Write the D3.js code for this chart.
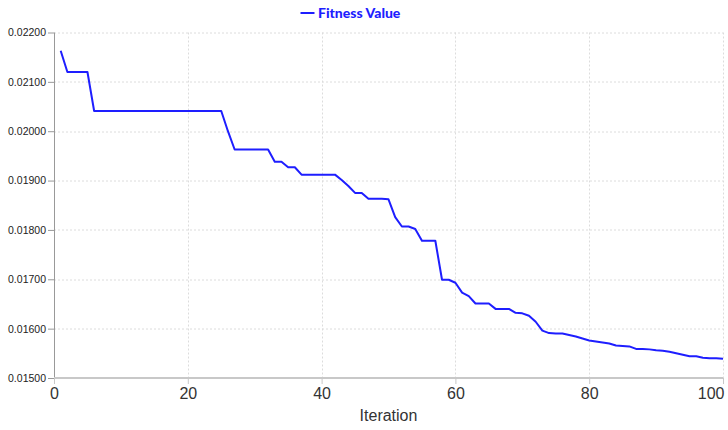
<!DOCTYPE html>
<html>
<head>
<meta charset="utf-8">
<script src="https://cdn.jsdelivr.net/npm/d3@7"></script>
<style>
  html, body { margin: 0; padding: 0; background: #fff; }
  svg { display: block; }
</style>
</head>
<body>
<div id="chart"></div>
<script>
// ── Fitness value per iteration ────────────────────────────────
const seriesName = 'Fitness Value';
const fitness = [
  0.02163, 0.02120, 0.02120, 0.02120, 0.02120, 0.02041, 0.02041, 0.02041, 0.02041, 0.02041,
  0.02041, 0.02041, 0.02041, 0.02041, 0.02041, 0.02041, 0.02041, 0.02041, 0.02041, 0.02041,
  0.02041, 0.02041, 0.02041, 0.02041, 0.02041, 0.02000, 0.01963, 0.01963, 0.01963, 0.01963,
  0.01963, 0.01963, 0.01938, 0.01938, 0.01927, 0.01927, 0.01912, 0.01912, 0.01912, 0.01912,
  0.01912, 0.01912, 0.01901, 0.01889, 0.01875, 0.01875, 0.01863, 0.01863, 0.01863, 0.01862,
  0.01826, 0.01807, 0.01807, 0.01802, 0.01778, 0.01778, 0.01778, 0.01699, 0.01699, 0.01693,
  0.01673, 0.01666, 0.01651, 0.01651, 0.01651, 0.01640, 0.01640, 0.01640, 0.01632, 0.01631,
  0.01626, 0.01614, 0.01596, 0.01591, 0.01590, 0.01590, 0.01587, 0.01584, 0.01580, 0.01576,
  0.01574, 0.01572, 0.01570, 0.01566, 0.01565, 0.01564, 0.01559, 0.01559, 0.01558, 0.01556,
  0.01555, 0.01553, 0.01550, 0.01547, 0.01544, 0.01544, 0.01541, 0.01540, 0.01540, 0.01539
];
const iterations = fitness.map((_, i) => i + 1);
const xTicks = [0, 20, 40, 60, 80, 100];
const yTicks = [0.015, 0.016, 0.017, 0.018, 0.019, 0.020, 0.021, 0.022];

const width = 728, height = 430;
const margin = { top: 32.5, right: 5, bottom: 52, left: 54 };
const W = width - margin.left - margin.right;
const H = height - margin.top - margin.bottom;
const lineColor = '#1e1eff';

const svg = d3.select('#chart').append('svg')
  .attr('width', width)
  .attr('height', height);

const g = svg.append('g').attr('transform', `translate(${margin.left},${margin.top})`);

const x = d3.scaleLinear().domain([0, 100]).range([0, W]);
const y = d3.scaleLinear().domain([0.015, 0.022]).range([H, 0]);

// Grid
g.append('g')
  .selectAll('line.hgrid')
  .data(yTicks.slice(1))
  .enter().append('line')
  .attr('x1', 0).attr('x2', W)
  .attr('y1', d => Math.round(y(d)) + 0.5).attr('y2', d => Math.round(y(d)) + 0.5)
  .attr('stroke', '#dcdcdc').attr('stroke-dasharray', '2,2');
g.append('g')
  .selectAll('line.vgrid')
  .data(xTicks.slice(1))
  .enter().append('line')
  .attr('y1', 0).attr('y2', H)
  .attr('x1', d => Math.round(x(d)) + 0.5).attr('x2', d => Math.round(x(d)) + 0.5)
  .attr('stroke', '#dcdcdc').attr('stroke-dasharray', '2,2');

// Y axis
const yAxisG = g.append('g')
  .call(d3.axisLeft(y).tickValues(yTicks).tickSize(6).tickPadding(2).tickFormat(d3.format('.5f')));
yAxisG.select('path').attr('stroke', '#999').attr('d', `M0.5,0V${H}`);
yAxisG.selectAll('line').attr('stroke', '#999');
yAxisG.selectAll('text')
  .attr('fill', '#222')
  .attr('font-family', "'Liberation Sans', Arial, sans-serif")
  .attr('font-size', '10.5px');

// X axis
const xAxisG = g.append('g').attr('transform', `translate(0,${H})`)
  .call(d3.axisBottom(x).tickValues(xTicks).tickSize(6).tickPadding(4));
xAxisG.select('path').attr('stroke', '#c8c8c8').attr('stroke-width', 2).attr('d', `M0,0H${W}`);
xAxisG.selectAll('line').attr('stroke', '#c8c8c8');
xAxisG.selectAll('text')
  .attr('fill', '#333')
  .attr('font-family', "'Liberation Sans', Arial, sans-serif")
  .attr('font-size', '16px')
  .attr('text-anchor', d => d === 100 ? 'end' : 'middle')
  .attr('dx', d => d === 100 ? 1 : 0);

g.append('text')
  .attr('x', W / 2).attr('y', H + 43)
  .attr('text-anchor', 'middle')
  .attr('fill', '#333')
  .attr('font-family', "'Liberation Sans', Arial, sans-serif")
  .attr('font-size', '16px')
  .text('Iteration');

// Line
const line = d3.line()
  .x((d, i) => x(iterations[i]))
  .y(d => y(d));
g.append('path')
  .datum(fitness)
  .attr('fill', 'none')
  .attr('stroke', lineColor)
  .attr('stroke-width', 2)
  .attr('stroke-linejoin', 'round')
  .attr('d', line);

// Legend
const legend = svg.append('g').attr('transform', 'translate(300.5,13)');
legend.append('line')
  .attr('x1', 0).attr('x2', 14).attr('y1', 0).attr('y2', 0)
  .attr('stroke', lineColor).attr('stroke-width', 2);
legend.append('text')
  .attr('x', 17.5).attr('y', 5)
  .attr('fill', lineColor)
  .attr('font-family', "Lato, 'Open Sans', sans-serif")
  .attr('font-weight', 900)
  .attr('font-size', '14px')
  .text(seriesName);
</script>
</body>
</html>
